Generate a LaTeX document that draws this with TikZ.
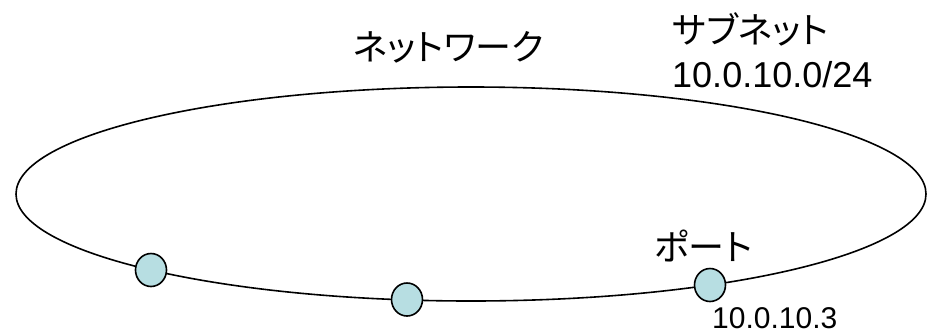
\documentclass[tikz,border=0pt]{standalone}
\usepackage{fontspec}
\setmainfont{Liberation Sans}
\newfontfamily\jp[RawFeature=+palt]{Noto Sans CJK JP}
\usetikzlibrary{shapes.geometric}
\definecolor{portfill}{RGB}{183,222,226}
\tikzset{
  port/.style={ellipse,draw=black,line width=1.6pt,fill=portfill,minimum width=31pt,minimum height=33pt,inner sep=0pt},
  jplabel/.style={inner sep=0pt,font=\jp\fontsize{36}{40}\selectfont},
  numlabel/.style={inner sep=0pt,font=\fontsize{36}{40}\selectfont},
  smallnum/.style={inner sep=0pt,font=\fontsize{30}{34}\selectfont}
}
\begin{document}
\begin{tikzpicture}[x=1pt,y=-1pt]
\useasboundingbox (0,0) rectangle (928,333);
\draw[line width=1.6pt] (471,194) ellipse [x radius=455, y radius=107];
\node[port] (c1) at (151,270) {};
\node[port] (c2) at (407,299.5) {};
\node[port] (c3) at (710,285) {};
\node[jplabel,anchor=west] (net) at (353,47.5) {ネットワーク};
\node[jplabel,anchor=west] (sub) at (672,29) {サブネット};
\node[numlabel,anchor=base west] (subip) at (672,87) {10.0.10.0/24};
\node[jplabel,anchor=west] (port) at (654,246) {ポート};
\node[smallnum,anchor=base west] (portip) at (712,328.3) {10.0.10.3};
\end{tikzpicture}
\end{document}
